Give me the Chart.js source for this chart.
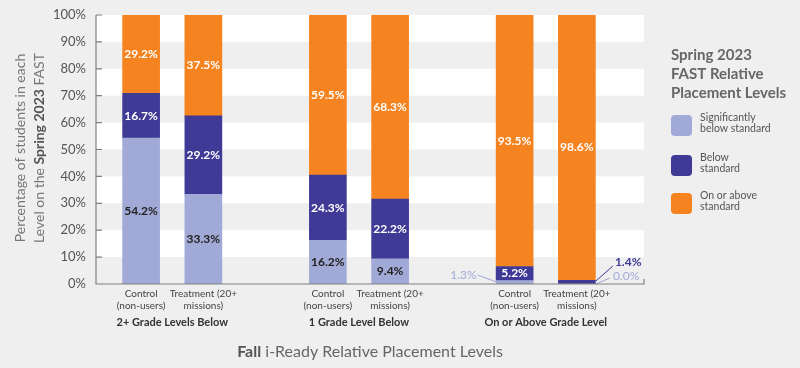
<!DOCTYPE html>
<html>
<head>
<meta charset="utf-8">
<script src="https://cdn.jsdelivr.net/npm/chart.js@4"></script>
<style>
  html, body { margin: 0; padding: 0; background: #efefef; }
  #wrap { width: 800px; height: 368px; }
</style>
</head>
<body>
<div id="wrap"><canvas id="placementChart" width="800" height="368"></canvas></div>
<script>
// Chart data (spacer slots between groups are empty)
const categories = [
    ['Control', '(non-users)'], ['Treatment (20+', 'missions)'], '',
    ['Control', '(non-users)'], ['Treatment (20+', 'missions)'], '',
    ['Control', '(non-users)'], ['Treatment (20+', 'missions)']
];
const groupLabels = ['2+ Grade Levels Below', '1 Grade Level Below', 'On or Above Grade Level'];
const sigBelow = [54.2, 33.3, null, 16.2, 9.4, null, 1.3, 0.0];
const below    = [16.7, 29.2, null, 24.3, 22.2, null, 5.2, 1.4];
const onAbove  = [29.2, 37.5, null, 59.5, 68.3, null, 93.5, 98.6];
const yTicks = [0, 10, 20, 30, 40, 50, 60, 70, 80, 90, 100];
const legendLabels = [['Significantly', 'below standard'], ['Below', 'standard'], ['On or above', 'standard']];

const colors = ['#a1a9d7', '#3f3a96', '#f5831f'];
const FONT = 'Lato, "Open Sans", sans-serif';

// small segments get a callout with a leader line instead of an inside label
const callouts = {
    '0,6': { tx: -38, ty: -9, align: 'right', from: [-37, -9], to: [-18, -2] },
    '1,7': { tx: 38, ty: -22, align: 'left', from: [19, -3], to: [36, -18] },
    '0,7': { tx: 36, ty: -8, align: 'left', from: [19, 0], to: [33, -6] }
};

const decor = {
    id: 'decor',
    beforeDraw(chart) {
        const { ctx, chartArea: a, scales: { y } } = chart;
        const left = a.left - 14, right = a.right + 36;
        ctx.save();
        ctx.fillStyle = '#efefef';
        ctx.fillRect(0, 0, chart.width, chart.height);
        // alternating white bands
        ctx.fillStyle = '#ffffff';
        for (let v = 10; v < 100; v += 20) {
            const top = y.getPixelForValue(v + 10), bot = y.getPixelForValue(v);
            ctx.fillRect(left, top, right - left, bot - top);
        }
        ctx.restore();
    },
    afterDraw(chart) {
        const { ctx, chartArea: a, scales: { x, y } } = chart;
        const left = a.left - 14, right = a.right + 36;
        ctx.save();
        // axes, ticks pointing inward
        ctx.strokeStyle = '#808080';
        ctx.lineWidth = 1.2;
        ctx.beginPath();
        ctx.moveTo(left, y.getPixelForValue(100));
        ctx.lineTo(left, a.bottom);
        ctx.lineTo(right, a.bottom);
        ctx.lineTo(right, a.bottom - 5);
        yTicks.forEach(v => {
            const py = y.getPixelForValue(v);
            ctx.moveTo(left, py);
            ctx.lineTo(left + 6, py);
        });
        ctx.stroke();

        // group labels
        ctx.fillStyle = '#333';
        ctx.font = 'bold 11px ' + FONT;
        ctx.textAlign = 'center';
        ctx.textBaseline = 'middle';
        groupLabels.forEach((g, i) => {
            const cx = (x.getPixelForValue(i * 3) + x.getPixelForValue(i * 3 + 1)) / 2;
            ctx.fillText(g, cx, 322);
        });

        // x title with bold first word
        ctx.textAlign = 'left';
        const xb = 'Fall', xr = ' i-Ready Relative Placement Levels';
        ctx.font = 'bold 16px ' + FONT;
        const wb = ctx.measureText(xb).width;
        ctx.font = '16px ' + FONT;
        const wr = ctx.measureText(xr).width;
        let sx = 370 - (wb + wr) / 2;
        ctx.fillStyle = '#555';
        ctx.font = 'bold 16px ' + FONT;
        ctx.fillText(xb, sx, 352);
        ctx.fillStyle = '#666';
        ctx.font = '16px ' + FONT;
        ctx.fillText(xr, sx + wb, 352);

        // y title, two rotated lines
        ctx.save();
        ctx.translate(20, 148);
        ctx.rotate(-Math.PI / 2);
        ctx.textAlign = 'center';
        ctx.font = '14px ' + FONT;
        ctx.fillStyle = '#777';
        ctx.fillText('Percentage of students in each', 0, 0);
        const parts = [['Level on the ', '14px', '#777'], ['Spring 2023', 'bold 14px', '#555'], [' FAST', '14px', '#777']];
        let total = 0;
        parts.forEach(p => { ctx.font = p[1] + ' ' + FONT; total += ctx.measureText(p[0]).width; });
        let px = -total / 2;
        ctx.textAlign = 'left';
        parts.forEach(p => {
            ctx.font = p[1] + ' ' + FONT;
            ctx.fillStyle = p[2];
            ctx.fillText(p[0], px, 19);
            px += ctx.measureText(p[0]).width;
        });
        ctx.restore();

        // legend
        ctx.fillStyle = '#666';
        ctx.font = 'bold 15px ' + FONT;
        ctx.textAlign = 'left';
        ['Spring 2023', 'FAST Relative', 'Placement Levels'].forEach((t, i) => ctx.fillText(t, 671, 55 + i * 19));
        const boxY = [115, 155, 193];
        legendLabels.forEach((lines, i) => {
            ctx.fillStyle = colors[i];
            ctx.beginPath();
            ctx.roundRect(671, boxY[i], 21, 21, 4);
            ctx.fill();
            ctx.fillStyle = '#555';
            ctx.font = '10.5px ' + FONT;
            lines.forEach((l, j) => ctx.fillText(l, 700, boxY[i] + 3 + j * 10.5));
        });
        ctx.restore();
    },
    afterDatasetsDraw(chart) {
        const { ctx } = chart;
        ctx.save();
        ctx.font = 'bold 12px ' + FONT;
        ctx.textBaseline = 'middle';
        chart.data.datasets.forEach((ds, di) => {
            const meta = chart.getDatasetMeta(di);
            meta.data.forEach((bar, i) => {
                const v = ds.data[i];
                if (v === null || v === undefined) return;
                const txt = v.toFixed(1) + '%';
                const c = callouts[di + ',' + i];
                if (c) {
                    const bx = bar.x, by = chart.scales.y.getPixelForValue(0);
                    ctx.strokeStyle = colors[di];
                    ctx.lineWidth = 1;
                    ctx.beginPath();
                    ctx.moveTo(bx + c.from[0], by + c.from[1]);
                    ctx.lineTo(bx + c.to[0], by + c.to[1]);
                    ctx.stroke();
                    ctx.fillStyle = colors[di];
                    ctx.font = (di === 0 ? '' : 'bold ') + '12px ' + FONT;
                    ctx.textAlign = c.align;
                    ctx.fillText(txt, bx + c.tx, by + c.ty);
                    ctx.font = 'bold 12px ' + FONT;
                    return;
                }
                ctx.textAlign = 'center';
                ctx.fillStyle = di === 0 ? '#222' : '#fff';
                ctx.fillText(txt, bar.x, (bar.y + bar.base) / 2);
            });
        });
        ctx.restore();
    }
};

const ctx = document.getElementById('placementChart').getContext('2d');
new Chart(ctx, {
    type: 'bar',
    data: {
        labels: categories,
        datasets: [
            { label: 'Significantly below standard', data: sigBelow, backgroundColor: colors[0] },
            { label: 'Below standard', data: below, backgroundColor: colors[1] },
            { label: 'On or above standard', data: onAbove, backgroundColor: colors[2] }
        ]
    },
    options: {
        responsive: false,
        animation: false,
        layout: { padding: { top: 15, right: 192, left: 0, bottom: 0 } },
        datasets: { bar: { barThickness: 37, borderWidth: 0 } },
        plugins: { legend: { display: false }, tooltip: { enabled: false } },
        scales: {
            x: {
                stacked: true,
                grid: { display: false, drawTicks: false },
                border: { display: false },
                ticks: { color: '#444', font: { family: FONT, size: 10 }, padding: 4, maxRotation: 0, autoSkip: false },
                afterFit(s) { s.height = 84; }
            },
            y: {
                stacked: true,
                min: 0,
                max: 100,
                grid: { display: false, drawTicks: false },
                border: { display: false },
                ticks: { stepSize: 10, color: '#555', font: { family: FONT, size: 13 }, padding: 24,
                    callback: v => v + '%' },
                afterFit(s) { s.width = 110; s.paddingTop = 0; s.paddingBottom = 0; }
            }
        }
    },
    plugins: [decor]
});
</script>
</body>
</html>
